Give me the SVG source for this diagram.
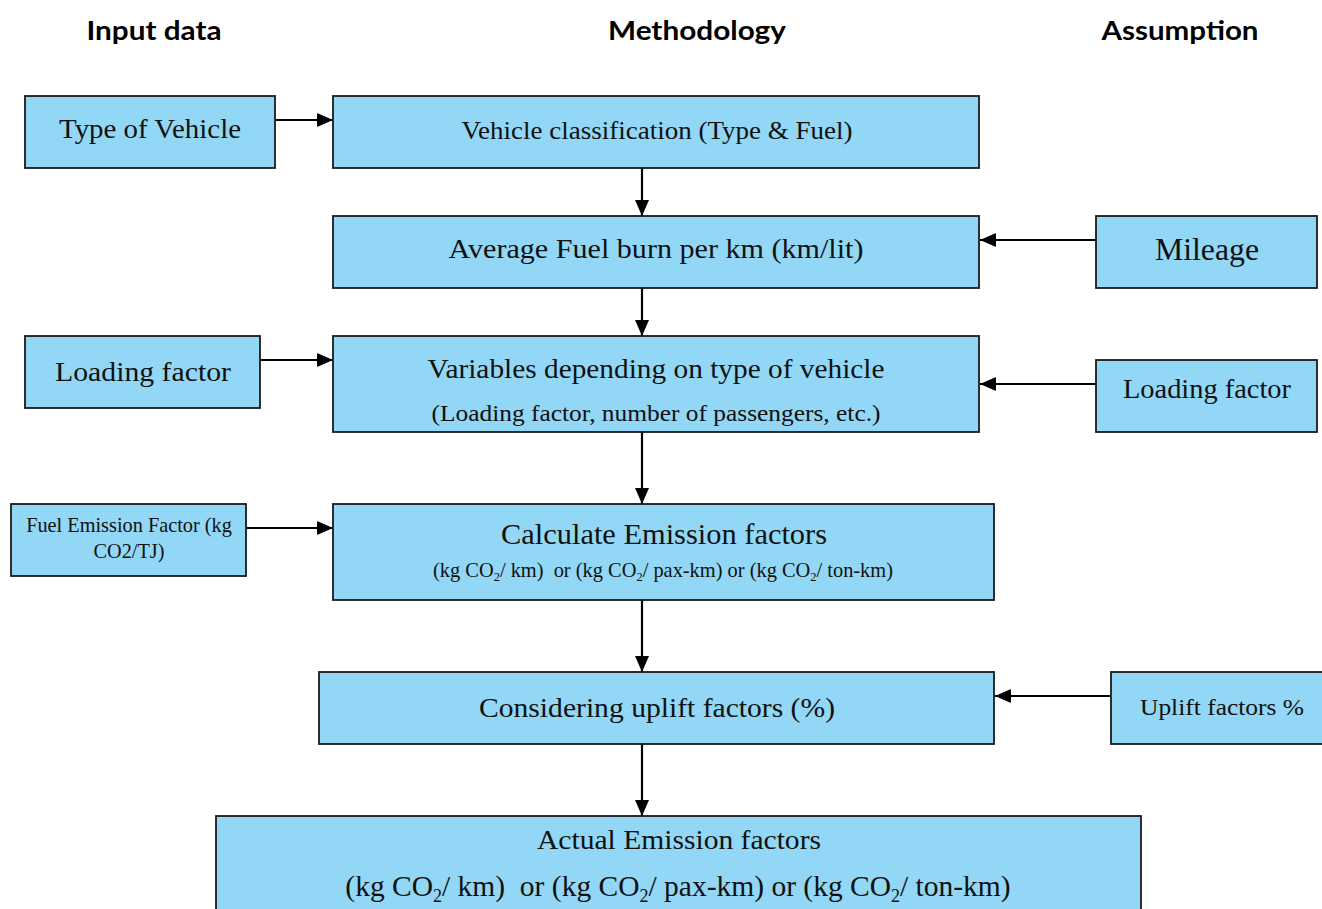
<svg xmlns="http://www.w3.org/2000/svg" width="1322" height="909" viewBox="0 0 1322 909">
<style>
.box{fill:#92D7F5;stroke:#1a1a1a;stroke-width:1.8}
.t{font-family:"Liberation Serif","Times New Roman",serif;fill:#111;text-anchor:middle}
.h{font-family:Lato,"Open Sans","Liberation Sans",sans-serif;font-weight:bold;font-size:26px;fill:#000;text-anchor:middle}
.c{stroke:#000;stroke-width:2.2;fill:none;marker-end:url(#ah)}
</style>
<defs>
<marker id="ah" markerUnits="userSpaceOnUse" markerWidth="17" markerHeight="15" refX="16" refY="7" orient="auto">
<path d="M0,0 L16,7 L0,14 z" fill="#000"/>
</marker>
</defs>
<rect x="0" y="0" width="1322" height="909" fill="#fff"/>
<g id="headers">
<text class="h" x="154" y="40" textLength="135" lengthAdjust="spacingAndGlyphs">Input data</text>
<text class="h" x="697" y="40" textLength="178" lengthAdjust="spacingAndGlyphs">Methodology</text>
<text class="h" x="1180" y="40" textLength="157" lengthAdjust="spacingAndGlyphs">Assumption</text>
</g>
<g id="connectors">
<line class="c" x1="275" y1="120" x2="333" y2="120"/>
<line class="c" x1="642" y1="168" x2="642" y2="216"/>
<line class="c" x1="1096" y1="240" x2="980" y2="240"/>
<line class="c" x1="642" y1="288" x2="642" y2="336"/>
<line class="c" x1="260" y1="360" x2="333" y2="360"/>
<line class="c" x1="1096" y1="384" x2="980" y2="384"/>
<line class="c" x1="642" y1="432" x2="642" y2="504"/>
<line class="c" x1="246" y1="528" x2="333" y2="528"/>
<line class="c" x1="642" y1="600" x2="642" y2="672"/>
<line class="c" x1="1111" y1="696" x2="995" y2="696"/>
<line class="c" x1="642" y1="744" x2="642" y2="816"/>
</g>
<g id="type-of-vehicle">
<rect class="box" x="25" y="96" width="250" height="72"/>
<text class="t" x="150" y="138" font-size="27" textLength="182" lengthAdjust="spacingAndGlyphs">Type of Vehicle</text>
</g>
<g id="vehicle-classification">
<rect class="box" x="333" y="96" width="646" height="72"/>
<text class="t" x="657" y="139" font-size="25" textLength="391" lengthAdjust="spacingAndGlyphs">Vehicle classification (Type &amp; Fuel)</text>
</g>
<g id="average-fuel">
<rect class="box" x="333" y="216" width="646" height="72"/>
<text class="t" x="656" y="258" font-size="28" textLength="415" lengthAdjust="spacingAndGlyphs">Average Fuel burn per km (km/lit)</text>
</g>
<g id="mileage">
<rect class="box" x="1096" y="216" width="221" height="72"/>
<text class="t" x="1207" y="260" font-size="31" textLength="104" lengthAdjust="spacingAndGlyphs">Mileage</text>
</g>
<g id="loading-factor-input">
<rect class="box" x="25" y="336" width="235" height="72"/>
<text class="t" x="143" y="381" font-size="28" textLength="176" lengthAdjust="spacingAndGlyphs">Loading factor</text>
</g>
<g id="variables">
<rect class="box" x="333" y="336" width="646" height="96"/>
<text class="t" x="656" y="378" font-size="28" textLength="457" lengthAdjust="spacingAndGlyphs">Variables depending on type of vehicle</text>
<text class="t" x="656" y="421" font-size="23" textLength="449" lengthAdjust="spacingAndGlyphs">(Loading factor, number of passengers, etc.)</text>
</g>
<g id="loading-factor-assumption">
<rect class="box" x="1096" y="360" width="221" height="72"/>
<text class="t" x="1207" y="398" font-size="27" textLength="168" lengthAdjust="spacingAndGlyphs">Loading factor</text>
</g>
<g id="fuel-emission-factor">
<rect class="box" x="11" y="504" width="235" height="72"/>
<text class="t" x="129" y="532" font-size="20.3">Fuel Emission Factor (kg</text>
<text class="t" x="129" y="558" font-size="20.3">CO2/TJ)</text>
</g>
<g id="calculate-emission">
<rect class="box" x="333" y="504" width="661" height="96"/>
<text class="t" x="664" y="544" font-size="29" textLength="326" lengthAdjust="spacingAndGlyphs">Calculate Emission factors</text>
<text class="t" x="663" y="577" font-size="20.4">(kg CO<tspan font-size="12.5" dy="4">2</tspan><tspan dy="-4">/ km)&#160; or (kg CO</tspan><tspan font-size="12.5" dy="4">2</tspan><tspan dy="-4">/ pax-km) or (kg CO</tspan><tspan font-size="12.5" dy="4">2</tspan><tspan dy="-4">/ ton-km)</tspan></text>
</g>
<g id="uplift">
<rect class="box" x="319" y="672" width="675" height="72"/>
<text class="t" x="657" y="717" font-size="28" textLength="356" lengthAdjust="spacingAndGlyphs">Considering uplift factors (%)</text>
</g>
<g id="uplift-factors">
<rect class="box" x="1111" y="672" width="215" height="72"/>
<text class="t" x="1222" y="715" font-size="24" textLength="164" lengthAdjust="spacingAndGlyphs">Uplift factors %</text>
</g>
<g id="actual-emission">
<rect class="box" x="216" y="816" width="925" height="100"/>
<text class="t" x="679" y="849" font-size="28" textLength="284" lengthAdjust="spacingAndGlyphs">Actual Emission factors</text>
<text class="t" x="678" y="896" font-size="29.5">(kg CO<tspan font-size="18" dy="6">2</tspan><tspan dy="-6">/ km)&#160; or (kg CO</tspan><tspan font-size="18" dy="6">2</tspan><tspan dy="-6">/ pax-km) or (kg CO</tspan><tspan font-size="18" dy="6">2</tspan><tspan dy="-6">/ ton-km)</tspan></text>
</g>
</svg>
